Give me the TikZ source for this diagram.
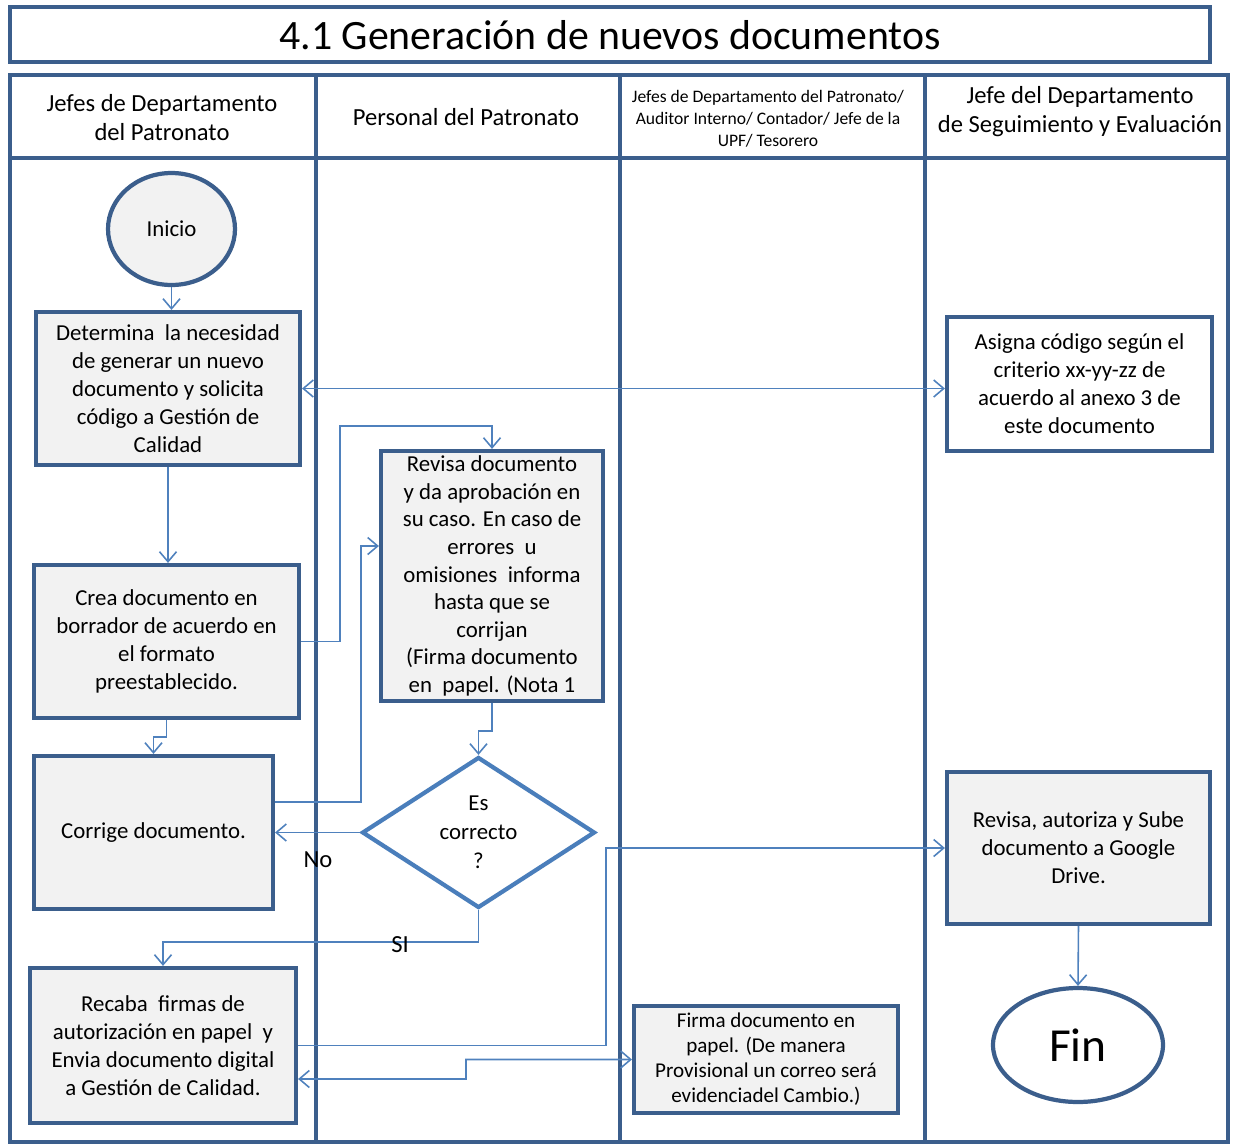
\documentclass[tikz,border=0pt]{standalone}
\usepackage{fontspec}
\setmainfont{Carlito}
\usetikzlibrary{arrows.meta,shapes.geometric}

\definecolor{lanecol}{RGB}{59,94,140}
\definecolor{flowcol}{RGB}{79,129,189}
\definecolor{diacol}{RGB}{74,126,187}
\definecolor{boxfill}{RGB}{242,242,242}

\tikzset{
  barb/.tip={Straight Barb[length=2mm,width=3.4mm,line width=0.9pt]},
  lane/.style={draw=lanecol, line width=2.3pt},
  proc/.style={draw=lanecol, line width=2.4pt, fill=boxfill, align=center,
    inner sep=0pt, font=\fontsize{13}{15.9}\selectfont},
  term/.style={proc, ellipse},
  flow/.style={draw=flowcol, line width=0.9pt, -barb},
  hdr/.style={align=center, font=\fontsize{14}{16.5}\selectfont},
}

\begin{document}
\begin{tikzpicture}[x=0.02cm, y=-0.02cm]

\useasboundingbox (0,0) rectangle (1235,1144);

% Title
\draw[lane] (10,7) rectangle (1210,62);
\node[font=\fontsize{23.8}{27}\selectfont] (title) at (610,35) {4.1 Generación de nuevos documentos};

% Lanes
\draw[lane] (10,75) rectangle (1228,1142);
\draw[lane] (10,158) -- (1228,158);
\draw[lane] (316,75) -- (316,1142);
\draw[lane] (620,75) -- (620,1142);
\draw[lane] (925,75) -- (925,1142);

\node[hdr] (h1) at (162,118) {Jefes de Departamento\\del Patronato};
\node[hdr] (h2) at (466,117) {Personal del Patronato};
\node[hdr, font=\fontsize{10}{12.5}\selectfont] (h3) at (768,119)
  {Jefes de Departamento del Patronato/\\Auditor Interno/ Contador/ Jefe de la\\UPF/ Tesorero};
\node[hdr] (h4) at (1080,112) {Jefe del Departamento\\de Seguimiento y Evaluación};

% Steps
\node[term, minimum width=2.54cm, minimum height=2.24cm] (inicio) at (171.5,229) {Inicio};
\node[proc, minimum width=5.28cm, minimum height=3.06cm] (det) at (168,388.5)
  {Determina \ la necesidad\\de generar un nuevo\\documento y solicita\\código a Gestión de\\Calidad};
\node[proc, fill=white, minimum width=5.3cm, minimum height=2.68cm] (asig) at (1079.5,384)
  {Asigna código según el\\criterio xx-yy-zz de\\acuerdo al anexo 3 de\\este documento};
\node[proc, minimum width=5.3cm, minimum height=3.06cm] (crea) at (166.5,641.5)
  {Crea documento en\\borrador de acuerdo en\\el formato\\preestablecido.};
\node[proc, minimum width=4.44cm, minimum height=5cm,
  font=\fontsize{13}{15.7}\selectfont] (rev) at (492,576)
  {Revisa documento\\y da aprobación en\\su caso. En caso de\\errores \ u\\omisiones \ informa\\hasta que se\\corrijan\\(Firma documento\\en \ papel. (Nota 1};
\node[proc, minimum width=4.78cm, minimum height=3.06cm] (corr) at (153.5,832.5) {Corrige documento.};
\node[proc, diamond, draw=diacol, fill=white, aspect=1.54,
  minimum width=4.66cm, minimum height=3.02cm,
  font=\fontsize{13}{16.4}\selectfont] (dia) at (478.5,832.5) {Es\\correcto\\?};
\node[proc, minimum width=5.32cm, minimum height=3.1cm] (rec) at (163,1045.5)
  {Recaba \ firmas de\\autorización en papel \ y\\Envia documento digital\\a Gestión de Calidad.};
\node[proc, minimum width=5.28cm, minimum height=2.14cm,
  font=\fontsize{12}{14.2}\selectfont] (firma) at (766,1059.5)
  {Firma documento en\\papel. (De manera\\Provisional un correo será\\evidenciadel Cambio.)};
\node[proc, minimum width=5.26cm, minimum height=3.04cm] (rev2) at (1078.5,848)
  {Revisa, autoriza y Sube\\documento a Google\\Drive.};
\node[term, fill=white, minimum width=3.4cm, minimum height=2.28cm,
  font=\fontsize{27}{30}\selectfont] (fin) at (1078,1045) {Fin};

% Connectors
\draw[flow] (inicio.south) -- (inicio.south |- det.north);
\draw[flow, barb-barb] (det.east) -- (det.east -| asig.west);
\draw[flow] (det.south) -- (det.south |- crea.north);
\draw[flow] (crea.east) -- (340,641.5) -- (340,426) -| (rev.north);
\draw[flow] (crea.south) -- ++(0,17) -| (corr.north);
\draw[flow] ([yshift=0.61cm]corr.east) -- (361,802) |- ([yshift=0.6cm]rev.west);
\draw[flow] (rev.south) -- ++(0,28) -| (dia.north);
\draw[flow] (dia.west) -- (corr.east);
\draw[flow] (dia.south) -- ++(0,32) -| (rec.north);
\draw[flow] (rec.east) -- (606,1045.5) |- (rev2.west);
\draw[flow, barb-barb] ([yshift=-0.67cm]rec.east) -- (466,1079) |- (firma.west);
\draw[flow] (rev2.south) -- (fin.north);

\node[font=\fontsize{14}{16}\selectfont] (lblno) at (318,860) {No};
\node[font=\fontsize{14}{16}\selectfont] (lblsi) at (400,945) {SI};

\end{tikzpicture}
\end{document}
